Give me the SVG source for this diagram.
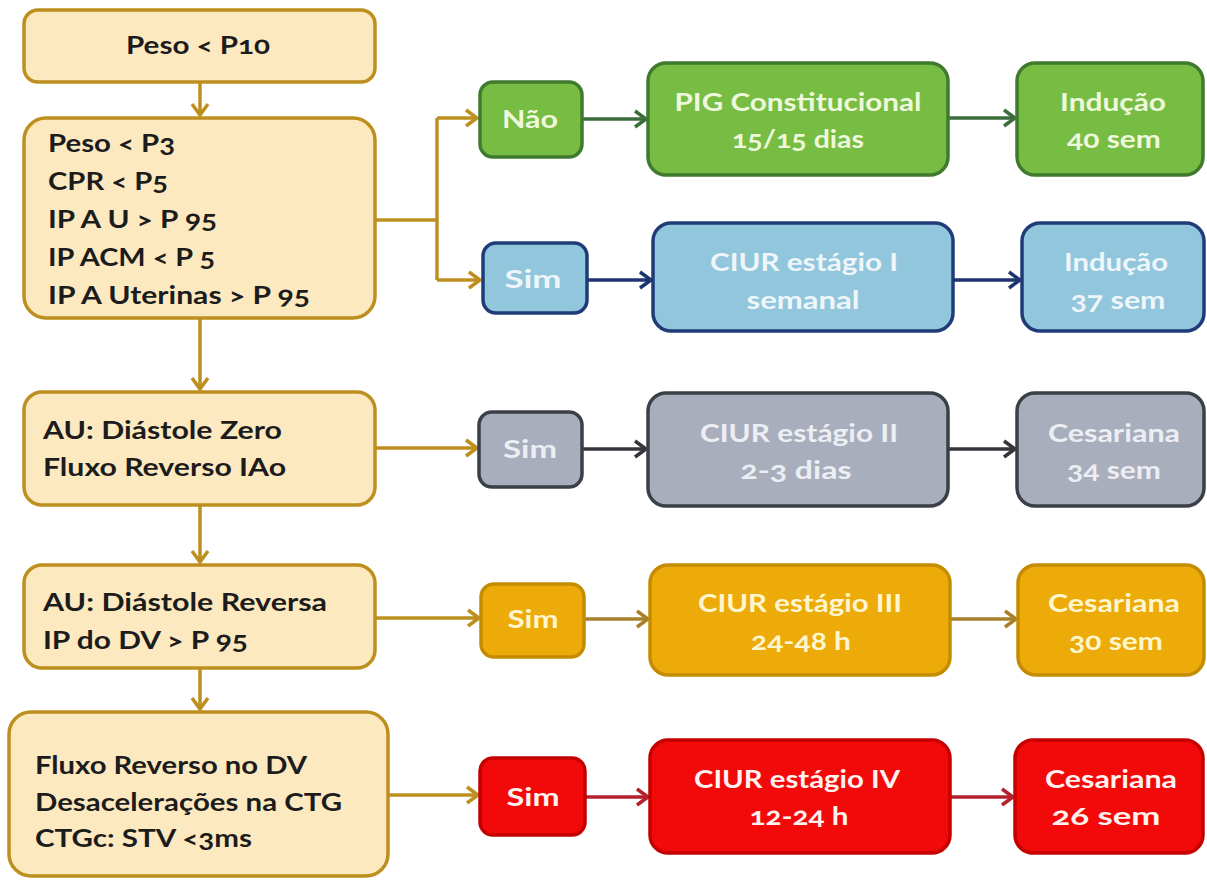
<svg xmlns="http://www.w3.org/2000/svg" width="1207" height="880" viewBox="0 0 1207 880">
<defs>
<style>
.t{font-family:Lato,"Open Sans","Liberation Sans",sans-serif;font-weight:bold;font-variant-numeric:oldstyle-nums;font-feature-settings:"onum";}
.lt{fill:#1c1c1c;font-size:25px;}
.ct{fill:#f4f6ee;font-size:25px;text-anchor:middle;}
.g .ct{fill:#eef8dc;}
.b .ct{fill:#eef6fa;}
.y .ct{fill:#eceef3;}
.o .ct{fill:#fff6cf;}
.r .ct{fill:#fff2f0;}
.left{fill:#fde9c0;stroke:#bd8f1f;stroke-width:3.5;}
.green{fill:#78bd43;stroke:#3f7a2e;stroke-width:3.5;}
.blue{fill:#92c6dc;stroke:#1f3c78;stroke-width:3.5;}
.gray{fill:#a9aebd;stroke:#3b3f47;stroke-width:3.5;}
.orange{fill:#ecab08;stroke:#c48c00;stroke-width:3.5;}
.red{fill:#f20a0a;stroke:#c40000;stroke-width:3.5;}
.c{fill:none;stroke-width:3.5;}
</style>
<marker id="aGold" markerUnits="userSpaceOnUse" markerWidth="16" markerHeight="20" refX="13" refY="10" orient="auto"><path d="M2,2 L13,10 L2,18" fill="none" stroke="#bd8f1f" stroke-width="3.5"/></marker>
<marker id="aGreen" markerUnits="userSpaceOnUse" markerWidth="16" markerHeight="20" refX="13" refY="10" orient="auto"><path d="M2,2 L13,10 L2,18" fill="none" stroke="#3b6d3a" stroke-width="3.5"/></marker>
<marker id="aBlue" markerUnits="userSpaceOnUse" markerWidth="16" markerHeight="20" refX="13" refY="10" orient="auto"><path d="M2,2 L13,10 L2,18" fill="none" stroke="#1c3470" stroke-width="3.5"/></marker>
<marker id="aGray" markerUnits="userSpaceOnUse" markerWidth="16" markerHeight="20" refX="13" refY="10" orient="auto"><path d="M2,2 L13,10 L2,18" fill="none" stroke="#33363b" stroke-width="3.5"/></marker>
<marker id="aOrange" markerUnits="userSpaceOnUse" markerWidth="16" markerHeight="20" refX="13" refY="10" orient="auto"><path d="M2,2 L13,10 L2,18" fill="none" stroke="#a8802c" stroke-width="3.5"/></marker>
<marker id="aRed" markerUnits="userSpaceOnUse" markerWidth="16" markerHeight="20" refX="13" refY="10" orient="auto"><path d="M2,2 L13,10 L2,18" fill="none" stroke="#b3222c" stroke-width="3.5"/></marker>
</defs>
<rect width="1207" height="880" fill="#ffffff"/>

<g id="connectors">
<path class="c" stroke="#bd8f1f" d="M200,82 V115" marker-end="url(#aGold)"/>
<path class="c" stroke="#bd8f1f" d="M375,220 H437"/>
<path class="c" stroke="#bd8f1f" d="M437,118 V280"/>
<path class="c" stroke="#bd8f1f" d="M437,118 H477" marker-end="url(#aGold)"/>
<path class="c" stroke="#bd8f1f" d="M437,280 H480" marker-end="url(#aGold)"/>
<path class="c" stroke="#bd8f1f" d="M200,318 V389" marker-end="url(#aGold)"/>
<path class="c" stroke="#bd8f1f" d="M375,448 H477" marker-end="url(#aGold)"/>
<path class="c" stroke="#bd8f1f" d="M200,505 V562" marker-end="url(#aGold)"/>
<path class="c" stroke="#bd8f1f" d="M375,618 H479" marker-end="url(#aGold)"/>
<path class="c" stroke="#bd8f1f" d="M200,668 V709" marker-end="url(#aGold)"/>
<path class="c" stroke="#bd8f1f" d="M388,795 H478" marker-end="url(#aGold)"/>
<path class="c" stroke="#3b6d3a" d="M582,119 H646" marker-end="url(#aGreen)"/>
<path class="c" stroke="#3b6d3a" d="M948,118 H1015" marker-end="url(#aGreen)"/>
<path class="c" stroke="#1c3470" d="M587,280 H651" marker-end="url(#aBlue)"/>
<path class="c" stroke="#1c3470" d="M953,280 H1020" marker-end="url(#aBlue)"/>
<path class="c" stroke="#33363b" d="M582,449 H646" marker-end="url(#aGray)"/>
<path class="c" stroke="#33363b" d="M948,449 H1015" marker-end="url(#aGray)"/>
<path class="c" stroke="#a8802c" d="M584,619 H648" marker-end="url(#aOrange)"/>
<path class="c" stroke="#a8802c" d="M950,619 H1016" marker-end="url(#aOrange)"/>
<path class="c" stroke="#b3222c" d="M585,797 H648" marker-end="url(#aRed)"/>
<path class="c" stroke="#b3222c" d="M950,797 H1013" marker-end="url(#aRed)"/>
</g>

<g id="n-peso10"><rect class="left" x="24" y="10" width="351" height="72" rx="14"/><text class="t lt" x="198" y="54" text-anchor="middle" textLength="144" lengthAdjust="spacingAndGlyphs">Peso &lt; P10</text></g>
<g id="n-criterios"><rect class="left" x="24" y="118" width="351" height="200" rx="22"/>
<text class="t lt" x="48" y="152" textLength="127" lengthAdjust="spacingAndGlyphs">Peso &lt; P3</text>
<text class="t lt" x="48" y="190" textLength="120" lengthAdjust="spacingAndGlyphs">CPR &lt; P5</text>
<text class="t lt" x="48" y="228" textLength="169" lengthAdjust="spacingAndGlyphs">IP A U &gt; P 95</text>
<text class="t lt" x="48" y="266" textLength="167" lengthAdjust="spacingAndGlyphs">IP ACM &lt; P 5</text>
<text class="t lt" x="48" y="304" textLength="262" lengthAdjust="spacingAndGlyphs">IP A Uterinas &gt; P 95</text></g>
<g id="n-zero"><rect class="left" x="24" y="392" width="351" height="113" rx="18"/>
<text class="t lt" x="43" y="439" textLength="239" lengthAdjust="spacingAndGlyphs">AU: Diástole Zero</text>
<text class="t lt" x="43" y="476" textLength="243" lengthAdjust="spacingAndGlyphs">Fluxo Reverso IAo</text></g>
<g id="n-reversa"><rect class="left" x="24" y="565" width="351" height="103" rx="18"/>
<text class="t lt" x="43" y="611" textLength="284" lengthAdjust="spacingAndGlyphs">AU: Diástole Reversa</text>
<text class="t lt" x="43" y="649" textLength="205" lengthAdjust="spacingAndGlyphs">IP do DV &gt; P 95</text></g>
<g id="n-dv"><rect class="left" x="9" y="712" width="379" height="164" rx="22"/>
<text class="t lt" x="35" y="774" textLength="272" lengthAdjust="spacingAndGlyphs">Fluxo Reverso no DV</text>
<text class="t lt" x="35" y="811" textLength="307" lengthAdjust="spacingAndGlyphs">Desacelerações na CTG</text>
<text class="t lt" x="35" y="847" textLength="217" lengthAdjust="spacingAndGlyphs">CTGc: STV &lt;3ms</text></g>

<g id="n-nao" class="g"><rect class="green" x="480" y="82" width="102" height="75" rx="13"/><text class="t ct" x="530" y="128" textLength="56" lengthAdjust="spacingAndGlyphs">Não</text></g>
<g id="n-pig" class="g"><rect class="green" x="648" y="63" width="300" height="112" rx="18"/><text class="t ct" x="798" y="111" textLength="247" lengthAdjust="spacingAndGlyphs">PIG Constitucional</text><text class="t ct" x="798" y="148" textLength="132" lengthAdjust="spacingAndGlyphs">15/15 dias</text></g>
<g id="n-ind40" class="g"><rect class="green" x="1017" y="63" width="186" height="112" rx="18"/><text class="t ct" x="1113" y="111" textLength="106" lengthAdjust="spacingAndGlyphs">Indução</text><text class="t ct" x="1114" y="148" textLength="94" lengthAdjust="spacingAndGlyphs">40 sem</text></g>

<g id="n-sim1" class="b"><rect class="blue" x="483" y="243" width="104" height="70" rx="13"/><text class="t ct" x="533" y="288" textLength="57" lengthAdjust="spacingAndGlyphs">Sim</text></g>
<g id="n-ciur1" class="b"><rect class="blue" x="653" y="223" width="300" height="108" rx="18"/><text class="t ct" x="804" y="271" textLength="188" lengthAdjust="spacingAndGlyphs">CIUR estágio I</text><text class="t ct" x="803" y="309" textLength="113" lengthAdjust="spacingAndGlyphs">semanal</text></g>
<g id="n-ind37" class="b"><rect class="blue" x="1022" y="223" width="182" height="108" rx="18"/><text class="t ct" x="1116" y="271" textLength="104" lengthAdjust="spacingAndGlyphs">Indução</text><text class="t ct" x="1118" y="309" textLength="95" lengthAdjust="spacingAndGlyphs">37 sem</text></g>

<g id="n-sim2" class="y"><rect class="gray" x="479" y="412" width="103" height="75" rx="13"/><text class="t ct" x="530" y="458" textLength="54" lengthAdjust="spacingAndGlyphs">Sim</text></g>
<g id="n-ciur2" class="y"><rect class="gray" x="648" y="393" width="300" height="113" rx="18"/><text class="t ct" x="799" y="442" textLength="198" lengthAdjust="spacingAndGlyphs">CIUR estágio II</text><text class="t ct" x="796" y="479" textLength="111" lengthAdjust="spacingAndGlyphs">2-3 dias</text></g>
<g id="n-ces34" class="y"><rect class="gray" x="1017" y="393" width="187" height="113" rx="18"/><text class="t ct" x="1114" y="442" textLength="132" lengthAdjust="spacingAndGlyphs">Cesariana</text><text class="t ct" x="1114" y="479" textLength="94" lengthAdjust="spacingAndGlyphs">34 sem</text></g>

<g id="n-sim3" class="o"><rect class="orange" x="481" y="584" width="103" height="73" rx="13"/><text class="t ct" x="533" y="628" textLength="51" lengthAdjust="spacingAndGlyphs">Sim</text></g>
<g id="n-ciur3" class="o"><rect class="orange" x="650" y="565" width="300" height="110" rx="18"/><text class="t ct" x="800" y="612" textLength="204" lengthAdjust="spacingAndGlyphs">CIUR estágio III</text><text class="t ct" x="801" y="650" textLength="100" lengthAdjust="spacingAndGlyphs">24-48 h</text></g>
<g id="n-ces30" class="o"><rect class="orange" x="1018" y="565" width="186" height="110" rx="18"/><text class="t ct" x="1114" y="612" textLength="132" lengthAdjust="spacingAndGlyphs">Cesariana</text><text class="t ct" x="1116" y="650" textLength="94" lengthAdjust="spacingAndGlyphs">30 sem</text></g>

<g id="n-sim4" class="r"><rect class="red" x="480" y="758" width="105" height="77" rx="13"/><text class="t ct" x="533" y="806" textLength="53" lengthAdjust="spacingAndGlyphs">Sim</text></g>
<g id="n-ciur4" class="r"><rect class="red" x="650" y="740" width="300" height="113" rx="18"/><text class="t ct" x="797" y="788" textLength="206" lengthAdjust="spacingAndGlyphs">CIUR estágio IV</text><text class="t ct" x="799" y="825" textLength="99" lengthAdjust="spacingAndGlyphs">12-24 h</text></g>
<g id="n-ces26" class="r"><rect class="red" x="1015" y="740" width="188" height="113" rx="18"/><text class="t ct" x="1111" y="788" textLength="132" lengthAdjust="spacingAndGlyphs">Cesariana</text><text class="t ct" x="1106" y="825" textLength="109" lengthAdjust="spacingAndGlyphs">26 sem</text></g>
</svg>
